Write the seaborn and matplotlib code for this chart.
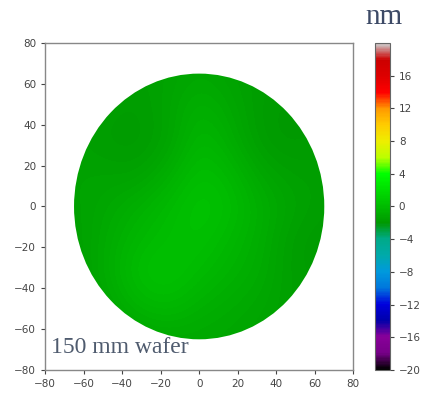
import numpy as np
import matplotlib
matplotlib.use("Agg")
import matplotlib.pyplot as plt
import matplotlib.patches as mpatches
import seaborn as sns

# Wafer thickness deviation map (nm), coarse grid
grid_x = [-64, -48, -32, -16, 0, 16, 32, 48, 64]
grid_y = [64, 48, 32, 16, 0, -16, -32, -48, -64]
row_y64 = [-1.6, -1.6, -1.6, -1.4, -1.1, -1.4, -1.7, -1.7, -1.7]
row_y48 = [-1.6, -1.6, -1.8, -1.3, -0.5, -1.1, -1.8, -2.0, -1.8]
row_y32 = [-1.5, -1.8, -1.9, -1.4, -0.1, -0.8, -1.8, -2.0, -1.8]
row_y16 = [-1.4, -1.4, -1.5, -0.7, 0.3, -0.2, -1.2, -1.6, -1.6]
row_y0 = [-1.5, -1.1, -0.6, 0.0, 0.6, 0.2, -0.7, -1.3, -1.7]
row_ym16 = [-1.6, -0.9, -0.2, 0.2, 0.4, -0.2, -0.8, -1.7, -1.9]
row_ym32 = [-1.7, -0.8, 0.3, 0.5, 0.0, -0.5, -0.9, -1.7, -1.8]
row_ym48 = [-1.8, -1.2, -0.3, 0.0, -0.6, -0.9, -1.2, -1.6, -1.7]
row_ym64 = [-1.8, -1.6, -1.3, -1.1, -1.1, -1.2, -1.4, -1.6, -1.7]
rows = [row_y64, row_y48, row_y32, row_y16, row_y0,
        row_ym16, row_ym32, row_ym48, row_ym64]

x_ticks = [-80, -60, -40, -20, 0, 20, 40, 60, 80]
y_ticks = [-80, -60, -40, -20, 0, 20, 40, 60, 80]
cbar_ticks = [-20, -16, -12, -8, -4, 0, 4, 8, 12, 16]
wafer_radius = 65
label_text = "150 mm wafer"
unit_text = "nm"

sns.set_style("ticks")
plt.rcParams["font.family"] = ["DejaVu Sans"]

fig = plt.figure(figsize=(4.26, 3.94), dpi=100)
ax = fig.add_axes([0.106, 0.061, 0.723, 0.830])
cax = fig.add_axes([0.880, 0.061, 0.035, 0.830])

data = np.array(rows)
step = grid_x[1] - grid_x[0]
ext = [grid_x[0] - step / 2, grid_x[-1] + step / 2,
       grid_y[-1] - step / 2, grid_y[0] + step / 2]
im = ax.imshow(data, cmap="nipy_spectral", vmin=-20, vmax=20,
               extent=ext, origin="upper", interpolation="bicubic",
               aspect="auto")
circ = mpatches.Circle((0, 0), wafer_radius, transform=ax.transData,
                       facecolor="none", edgecolor="none")
ax.add_patch(circ)
im.set_clip_path(circ)

ax.set_xlim(-80, 80)
ax.set_ylim(-80, 80)
ax.set_xticks(x_ticks)
ax.set_yticks(y_ticks)
ax.tick_params(labelsize=7.5, colors="#444444", length=3, width=0.8)
for s in ax.spines.values():
    s.set_color("#888888")
    s.set_linewidth(1.0)
    s.set_visible(True)

ax.text(-77, -74, label_text, fontsize=17, family="Liberation Serif",
        color="#4f5b6e", ha="left", va="bottom")

cb = fig.colorbar(im, cax=cax, ticks=cbar_ticks)
cb.ax.tick_params(labelsize=7.5, colors="#444444", length=3, width=0.8)
cb.outline.set_edgecolor("#666666")
cb.outline.set_linewidth(0.8)
fig.text(0.902, 0.925, unit_text, fontsize=21, family="Liberation Serif",
         color="#3d4a66", ha="center", va="bottom")

fig.savefig("out.png", dpi=100)
